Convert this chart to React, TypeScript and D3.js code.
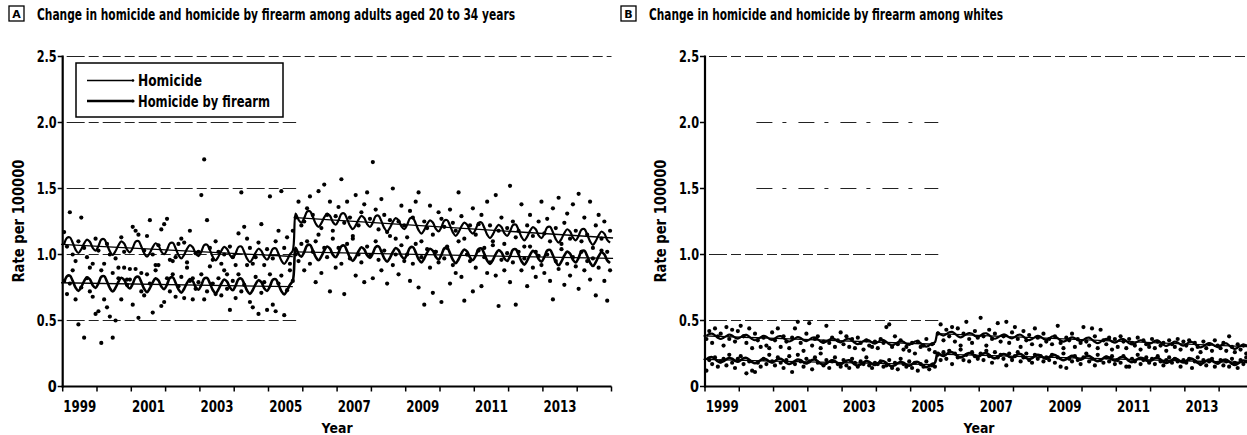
import React from "react";
import * as d3 from "d3";

// ---------- DATA ----------
const startYear = 1999;
const endYear = 2015;
const yTicks = [0, 0.5, 1.0, 1.5, 2.0, 2.5];
const xLabelYears = [1999, 2001, 2003, 2005, 2007, 2009, 2011, 2013];
const stepIndex = 81; // October 2005

// Panel A: adults aged 20-34, monthly rates per 100000 (Jan 1999 - Dec 2014)
const homicideA = [
  1.17, 1.06, 1.32, 1.00, 0.95, 1.10, 1.28, 1.05, 0.98, 0.90, 0.93, 1.12,
  1.03, 0.88, 0.93, 1.08, 1.00, 0.86, 0.97, 0.90, 1.13, 1.02, 0.81, 0.89,
  1.21, 1.18, 1.15, 0.86, 1.03, 1.14, 1.26, 1.00, 0.92, 1.07, 1.19, 1.23,
  1.27, 0.96, 0.85, 0.98, 1.08, 1.12, 1.09, 0.94, 1.18, 0.82, 1.01, 1.02,
  1.45, 1.72, 1.26, 1.05, 0.96, 1.10, 1.02, 0.93, 1.00, 0.85, 1.06, 0.98,
  0.92, 1.16, 1.47, 1.21, 1.12, 1.05, 0.93, 0.98, 1.09, 1.23, 0.92, 1.04,
  1.44, 0.97, 1.10, 1.18, 1.48, 1.05, 1.13, 0.93, 1.18, 1.28, 1.40, 1.22,
  1.25, 1.35, 1.44, 1.30, 1.10, 1.48, 1.20, 1.53, 1.30, 1.40, 1.18, 1.29,
  1.36, 1.57, 1.24, 1.40, 1.28, 1.14, 1.45, 1.22, 1.32, 1.38, 1.47, 1.27,
  1.70, 1.34, 1.19, 1.42, 1.30, 1.17, 1.26, 1.50, 1.12, 1.25, 1.37, 1.22,
  1.13, 1.33, 1.28, 1.40, 1.47, 1.10, 1.25, 1.20, 1.37, 1.15, 1.02, 1.32,
  1.27, 1.21, 1.06, 1.34, 1.24, 1.18, 1.47, 1.29, 1.12, 1.00, 1.22, 1.35,
  1.15, 1.23, 1.30, 1.05, 1.40, 1.22, 1.10, 1.45, 1.18, 1.28, 1.08, 1.20,
  1.52, 1.25, 1.13, 1.18, 1.38, 1.06, 1.22, 1.30, 1.14, 1.02, 1.25, 1.40,
  1.16, 1.27, 1.10, 1.35, 1.20, 1.43, 1.08, 1.24, 1.31, 1.12, 1.38, 1.18,
  1.46, 1.10, 1.28, 1.15, 1.40, 1.05, 1.22, 1.30, 1.12, 1.25, 1.02, 1.18,
];
const firearmA = [
  0.80, 0.70, 0.78, 0.88, 0.66, 0.47, 0.75, 0.37, 0.82, 0.72, 0.68, 0.55,
  0.57, 0.33, 0.66, 0.60, 0.53, 0.37, 0.50, 0.82, 0.66, 0.90, 0.77, 0.81,
  0.62, 0.89, 0.52, 0.72, 0.69, 0.85, 0.78, 0.56, 0.88, 0.92, 0.61, 0.64,
  0.82, 0.72, 0.95, 0.68, 0.76, 0.83, 0.67, 0.90, 0.80, 0.66, 0.74, 0.79,
  0.85, 0.66, 0.72, 0.91, 0.78, 0.70, 0.82, 0.69, 0.88, 0.74, 0.58, 0.80,
  0.67, 0.85, 0.72, 0.77, 0.92, 0.64, 0.60, 0.83, 0.55, 0.71, 0.79, 0.58,
  0.85, 0.62, 0.57, 0.78, 0.84, 0.54, 0.73, 0.88, 0.80, 1.00, 0.95, 1.08,
  0.88, 1.10, 0.93, 1.02, 0.79, 1.15, 0.86, 1.05, 0.98, 0.72, 1.12, 0.90,
  1.05, 0.93, 0.70, 1.08, 0.97, 1.12, 0.84, 1.00, 0.94, 0.79, 1.06, 0.99,
  0.82, 1.10, 0.96, 0.88, 1.03, 0.78, 1.14, 0.92, 1.00, 0.85, 1.07, 0.95,
  1.00, 0.80, 0.93, 1.08, 0.75, 0.98, 0.62, 1.04, 0.90, 0.71, 1.02, 0.94,
  0.64, 0.97, 1.05, 0.78, 0.92, 0.86, 1.10, 0.83, 0.65, 1.00, 0.95, 0.72,
  0.90, 1.03, 0.76, 0.98, 0.86, 0.94, 1.07, 0.84, 0.61, 0.96, 0.88, 1.01,
  0.79, 0.94, 0.62, 1.02, 0.88, 0.97, 0.76, 1.06, 0.90, 0.83, 0.99, 0.92,
  0.86, 1.00, 0.80, 0.66, 0.95, 0.89, 1.04, 0.77, 0.93, 0.84, 0.98, 0.91,
  0.74, 1.02, 0.88, 0.95, 0.81, 0.97, 0.69, 0.90, 1.03, 0.80, 0.65, 0.88,
];
// Panel B: whites
const homicideB = [
  0.36, 0.42, 0.33, 0.44, 0.38, 0.40, 0.31, 0.45, 0.36, 0.43, 0.34, 0.42,
  0.46, 0.38, 0.33, 0.44, 0.29, 0.40, 0.35, 0.30, 0.37, 0.31, 0.29, 0.41,
  0.35, 0.44, 0.30, 0.38, 0.34, 0.29, 0.37, 0.44, 0.49, 0.33, 0.27, 0.40,
  0.48, 0.31, 0.36, 0.38, 0.29, 0.34, 0.46, 0.33, 0.37, 0.30, 0.35, 0.41,
  0.32, 0.38, 0.30, 0.36, 0.29, 0.37, 0.33, 0.28, 0.35, 0.31, 0.30, 0.34,
  0.29, 0.36, 0.33, 0.45, 0.47, 0.30, 0.38, 0.32, 0.35, 0.28, 0.30, 0.27,
  0.33, 0.25, 0.34, 0.30, 0.31, 0.36, 0.28, 0.32, 0.26, 0.40, 0.47, 0.35,
  0.43, 0.38, 0.45, 0.34, 0.44, 0.31, 0.40, 0.49, 0.36, 0.33, 0.42, 0.37,
  0.52, 0.38, 0.31, 0.43, 0.36, 0.40, 0.48, 0.34, 0.38, 0.49, 0.33, 0.41,
  0.45, 0.36, 0.30, 0.42, 0.35, 0.39, 0.32, 0.44, 0.37, 0.31, 0.40, 0.34,
  0.36, 0.32, 0.38, 0.46, 0.33, 0.29, 0.37, 0.35, 0.40, 0.30, 0.36, 0.33,
  0.45, 0.34, 0.31, 0.44, 0.38, 0.29, 0.43, 0.35, 0.32, 0.37, 0.28, 0.36,
  0.30, 0.38, 0.34, 0.29, 0.36, 0.33, 0.31, 0.37, 0.28, 0.35, 0.32, 0.30,
  0.36, 0.29, 0.34, 0.31, 0.33, 0.27, 0.35, 0.32, 0.30, 0.36, 0.28, 0.34,
  0.31, 0.35, 0.28, 0.33, 0.30, 0.26, 0.34, 0.29, 0.32, 0.27, 0.35, 0.31,
  0.29, 0.33, 0.27, 0.38, 0.30, 0.26, 0.32, 0.28, 0.31, 0.25, 0.29, 0.48,
];
const firearmB = [
  0.12, 0.20, 0.17, 0.22, 0.15, 0.19, 0.21, 0.16, 0.24, 0.18, 0.14, 0.21,
  0.23, 0.17, 0.10, 0.19, 0.12, 0.11, 0.18, 0.15, 0.21, 0.17, 0.24, 0.19,
  0.16, 0.22, 0.18, 0.14, 0.20, 0.23, 0.11, 0.17, 0.24, 0.19, 0.15, 0.21,
  0.19, 0.13, 0.22, 0.18, 0.25, 0.16, 0.20, 0.14, 0.19, 0.22, 0.17, 0.15,
  0.20, 0.16, 0.14, 0.21, 0.18, 0.15, 0.19, 0.17, 0.22, 0.16, 0.14, 0.18,
  0.17, 0.19, 0.15, 0.16, 0.20, 0.14, 0.18, 0.13, 0.21, 0.17, 0.15, 0.19,
  0.14, 0.18, 0.12, 0.17, 0.15, 0.19, 0.13, 0.16, 0.15, 0.24, 0.20, 0.26,
  0.21, 0.27, 0.17, 0.25, 0.22, 0.28, 0.20, 0.24, 0.19, 0.26, 0.23, 0.21,
  0.25, 0.20, 0.27, 0.23, 0.18, 0.26, 0.22, 0.24, 0.21, 0.16, 0.25, 0.20,
  0.23, 0.26, 0.19, 0.22, 0.25, 0.20, 0.18, 0.24, 0.21, 0.23, 0.19, 0.22,
  0.20, 0.24, 0.18, 0.22, 0.15, 0.25, 0.14, 0.21, 0.19, 0.23, 0.20, 0.17,
  0.22, 0.25, 0.19, 0.21, 0.16, 0.24, 0.20, 0.18, 0.22, 0.19, 0.23, 0.17,
  0.20, 0.18, 0.23, 0.15, 0.15, 0.21, 0.19, 0.24, 0.17, 0.20, 0.22, 0.18,
  0.21, 0.17, 0.23, 0.19, 0.16, 0.20, 0.22, 0.18, 0.21, 0.19, 0.15, 0.20,
  0.18, 0.21, 0.14, 0.19, 0.22, 0.17, 0.20, 0.16, 0.19, 0.21, 0.15, 0.18,
  0.20, 0.16, 0.19, 0.15, 0.21, 0.18, 0.14, 0.20, 0.17, 0.22, 0.16, 0.19,
];

// Fitted segmented trends: [pre start, pre end, post start, post end]
const trendHomicideA = [1.077, 0.985, 1.28, 1.125];
const trendFirearmA = [0.786, 0.756, 1.02, 0.97];
const trendHomicideB = [0.384, 0.32, 0.40, 0.30];
const trendFirearmB = [0.205, 0.165, 0.245, 0.18];
// Seasonal offsets of the fitted curves, Jan..Dec
const seasonalA = [0.0, 0.05, 0.055, 0.015, -0.035, -0.06, -0.03, 0.015, 0.045, 0.03, -0.015, -0.035];
const seasonalB = [0.0, 0.015, 0.018, 0.005, -0.012, -0.02, -0.01, 0.005, 0.015, 0.01, -0.005, -0.012];

// ---------- CHART ----------
const FONT = "'DejaVu Sans', 'Liberation Sans', sans-serif";
const SX = 0.8; // horizontal condensing of the title text

type PanelProps = {
  letter: string;
  title: string;
  titleX: number;
  titleLen: number;
  x0: number;
  x1: number;
  homicide: number[];
  firearm: number[];
  trendH: number[];
  trendF: number[];
  seasonal: number[];
  legend: boolean;
  sparseGrid: boolean;
};

function fitted(trend: number[], seasonal: number[], n: number) {
  const pre = d3.scaleLinear().domain([0, stepIndex - 1]).range([trend[0], trend[1]]);
  const post = d3.scaleLinear().domain([stepIndex, n - 1]).range([trend[2], trend[3]]);
  return d3.range(n).map((i) => (i < stepIndex ? pre(i) : post(i)) + seasonal[i % 12]);
}

function Panel(p: PanelProps) {
  const yTop = 56.5;
  const yBot = 386.5;
  const x = d3.scaleLinear().domain([startYear, endYear]).range([p.x0, p.x1]);
  const y = d3.scaleLinear().domain([0, 2.5]).range([yBot, yTop]);
  const n = p.homicide.length;
  const tx = (i: number) => x(startYear + (i + 0.5) / 12);
  const line = d3
    .line<number>()
    .x((_, i) => tx(i))
    .y((v) => y(v))
    .curve(d3.curveCatmullRom.alpha(0.5));
  const fitH = fitted(p.trendH, p.seasonal, n);
  const fitF = fitted(p.trendF, p.seasonal, n);
  const stepX = tx(stepIndex) - 1.5;
  const trendSeg = (t: number[]) => [
    { xa: tx(0) - 3, xb: tx(stepIndex - 1), ya: t[0], yb: t[1] },
    { xa: tx(stepIndex), xb: tx(n - 1) + 3, ya: t[2], yb: t[3] },
  ];
  const yearTicks = d3.range(startYear, endYear + 1);
  return (
    <g>
      {/* title */}
      <rect x={p.titleX - 28} y={6} width={15} height={15} fill="white" stroke="black" strokeWidth={1.3} />
      <text x={p.titleX - 20.5} y={18} fontFamily={FONT} fontWeight="bold" fontSize={11} textAnchor="middle">
        {p.letter}
      </text>
      <g transform={`translate(${p.titleX},19.5) scale(${SX},1)`}>
        <text
          x={0}
          y={0}
          fontFamily={FONT}
          fontSize={15.5}
          fontWeight={600}
          textLength={p.titleLen / SX}
          lengthAdjust="spacingAndGlyphs"
        >
          {p.title}
        </text>
      </g>
      {/* gridlines */}
      {yTicks.slice(1).map((t) => {
        const full = t === 2.5;
        const sparse = p.sparseGrid && (t === 1.5 || t === 2.0);
        return (
          <line
            key={t}
            x1={sparse ? x(2000.5) : p.x0 + 4}
            x2={full ? p.x1 : stepX + 2}
            y1={y(t)}
            y2={y(t)}
            stroke="#222"
            strokeWidth={1}
            strokeDasharray={sparse ? "16 10 4 12" : "18 4 10 4"}
          />
        );
      })}
      {/* points */}
      {p.homicide.map((v, i) => (
        <circle key={"h" + i} cx={tx(i)} cy={y(v)} r={2.1} fill="black" />
      ))}
      {p.firearm.map((v, i) => (
        <circle key={"f" + i} cx={tx(i)} cy={y(v)} r={2.1} fill="black" />
      ))}
      {/* straight trend lines */}
      {[...trendSeg(p.trendH), ...trendSeg(p.trendF)].map((s, k) => (
        <line key={"t" + k} x1={s.xa} x2={s.xb} y1={y(s.ya)} y2={y(s.yb)} stroke="black" strokeWidth={1.3} />
      ))}
      {/* fitted curves */}
      <path d={line(fitH) || ""} fill="none" stroke="black" strokeWidth={2.2} strokeLinejoin="round" />
      <path d={line(fitF) || ""} fill="none" stroke="black" strokeWidth={2.6} strokeLinejoin="round" />
      {/* axes */}
      <line x1={p.x0} x2={p.x0} y1={yTop - 1} y2={yBot + 1} stroke="black" strokeWidth={2.2} />
      <line x1={p.x0 - 1} x2={p.x1} y1={yBot} y2={yBot} stroke="black" strokeWidth={2.2} />
      {yTicks.map((t) => (
        <g key={"yt" + t}>
          <line x1={p.x0 - 5} x2={p.x0} y1={y(t)} y2={y(t)} stroke="black" strokeWidth={1.5} />
          <text
            x={p.x0 - 6}
            y={y(t) + 5.5}
            fontFamily={FONT}
            fontWeight="bold"
            fontSize={15}
            textAnchor="end"
            textLength={t === 0 ? 9 : 20}
            lengthAdjust="spacingAndGlyphs"
          >
            {t === 0 ? "0" : d3.format(".1f")(t)}
          </text>
        </g>
      ))}
      {yearTicks.map((yr) => (
        <line key={"xt" + yr} x1={x(yr)} x2={x(yr)} y1={yBot} y2={yBot + 5} stroke="black" strokeWidth={1.5} />
      ))}
      {xLabelYears.map((yr) => (
        <text
          key={"xl" + yr}
          x={x(yr + 0.5)}
          y={412}
          fontFamily={FONT}
          fontWeight="bold"
          fontSize={15}
          textAnchor="middle"
          textLength={33}
          lengthAdjust="spacingAndGlyphs"
        >
          {yr}
        </text>
      ))}
      <text
        x={(p.x0 + Math.min(p.x1, 1253)) / 2}
        y={433}
        fontFamily={FONT}
        fontSize={14}
        fontWeight={600}
        textAnchor="middle"
        textLength={31}
        lengthAdjust="spacingAndGlyphs"
      >
        Year
      </text>
      <text
        transform={`translate(${p.x0 - 39},221) rotate(-90)`}
        fontFamily={FONT}
        fontSize={15}
        fontWeight={600}
        textAnchor="middle"
        textLength={123}
        lengthAdjust="spacingAndGlyphs"
      >
        Rate per 100000
      </text>
      {p.legend && (
        <g>
          <rect x={76} y={63} width={207} height={54} fill="white" stroke="black" strokeWidth={1.5} />
          <line x1={87} x2={133} y1={80.5} y2={80.5} stroke="black" strokeWidth={1.3} />
          <circle cx={133} cy={80.5} r={1.3} fill="black" />
          <text x={138} y={86} fontFamily={FONT} fontSize={15} fontWeight="bold" textLength={64} lengthAdjust="spacingAndGlyphs">
            Homicide
          </text>
          <line x1={87} x2={133} y1={101} y2={101} stroke="black" strokeWidth={2.4} />
          <circle cx={133} cy={101} r={1.6} fill="black" />
          <text x={138} y={106.5} fontFamily={FONT} fontSize={15} fontWeight="bold" textLength={132} lengthAdjust="spacingAndGlyphs">
            Homicide by firearm
          </text>
        </g>
      )}
    </g>
  );
}

export default function App() {
  return (
    <svg
      width={1247}
      height={435}
      style={{ position: "absolute", left: 0, top: 0, background: "white" }}
      xmlns="http://www.w3.org/2000/svg"
    >
      <rect width={1247} height={435} fill="white" />
      <Panel
        letter="A"
        title="Change in homicide and homicide by firearm among adults aged 20 to 34 years"
        titleX={37}
        titleLen={478}
        x0={62.7}
        x1={611.5}
        homicide={homicideA}
        firearm={firearmA}
        trendH={trendHomicideA}
        trendF={trendFirearmA}
        seasonal={seasonalA}
        legend={true}
        sparseGrid={false}
      />
      <Panel
        letter="B"
        title="Change in homicide and homicide by firearm among whites"
        titleX={649}
        titleLen={354}
        x0={705}
        x1={1253.4}
        homicide={homicideB}
        firearm={firearmB}
        trendH={trendHomicideB}
        trendF={trendFirearmB}
        seasonal={seasonalB}
        legend={false}
        sparseGrid={true}
      />
    </svg>
  );
}
